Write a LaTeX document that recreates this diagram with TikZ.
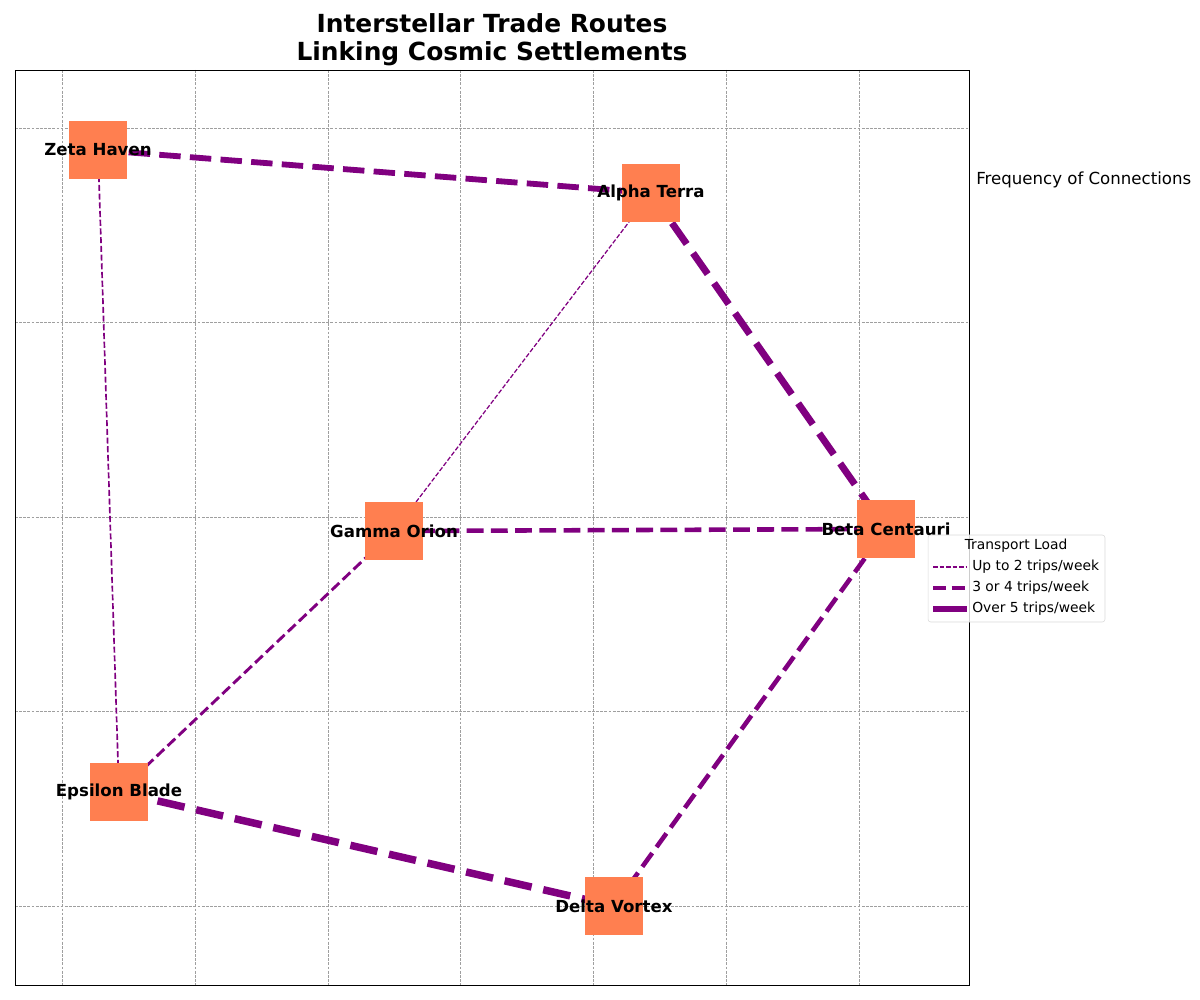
\documentclass[tikz,border=0pt]{standalone}
\usepackage{fontspec}
\setmainfont{DejaVu Sans}
\definecolor{coral}{HTML}{FF7F50}
\definecolor{edgepurple}{HTML}{800080}
\tikzset{
  gridline/.style={draw=gray!75, line width=0.4pt, dash pattern=on 2pt off 1pt},
  station/.style={fill=coral, draw=none, minimum width=41.9pt, minimum height=41.9pt, inner sep=0pt},
  stlabel/.style={font=\bfseries\fontsize{12}{14}\selectfont, inner sep=0pt},
  route/.style={draw=edgepurple, line cap=butt},
  w1/.style={route, line width=0.9pt, dash pattern=on 3.3pt off 1.4pt},
  w15/.style={route, line width=1.2pt, dash pattern=on 4.4pt off 1.9pt},
  w2/.style={route, line width=2.1pt, dash pattern=on 7.6pt off 3.3pt},
  w3/.style={route, line width=3.3pt, dash pattern=on 12.2pt off 5.3pt},
  w4/.style={route, line width=4.2pt, dash pattern=on 15.5pt off 6.7pt},
  w5/.style={route, line width=5.0pt, dash pattern=on 18.5pt off 8pt},
  w6/.style={route, line width=5.4pt, dash pattern=on 20pt off 8.6pt},
}
\begin{document}
\begin{tikzpicture}[x=0.7227pt, y=-0.7227pt]
\useasboundingbox (0,0) rectangle (1200,1000);
% grid
\foreach \gx in {62,195,328,460,593,726,859} \draw[gridline] (\gx,70) -- (\gx,985);
\foreach \gy in {128,322,517,711,906} \draw[gridline] (15,\gy) -- (969,\gy);
% nodes positions
\coordinate (cz) at (98,150);
\coordinate (ca) at (651,193);
\coordinate (cg) at (394,531);
\coordinate (cb) at (886,529);
\coordinate (ce) at (119,792);
\coordinate (cd) at (614,906);
% edges
\draw[w4] (cz) -- (ca);
\draw[w5] (ca) -- (cb);
\draw[w1] (ca) -- (cg);
\draw[w3] (cg) -- (cb);
\draw[w2] (cg) -- (ce);
\draw[w15] (cz) -- (ce);
\draw[w6] (ce) -- (cd);
\draw[w3] (cd) -- (cb);
% boxes
\node[station] (z) at (cz) {};
\node[station] (a) at (ca) {};
\node[station] (g) at (cg) {};
\node[station] (b) at (cb) {};
\node[station] (e) at (ce) {};
\node[station] (d) at (cd) {};
% labels
\node[stlabel] (zl) at (z.center) {Zeta Haven};
\node[stlabel] (al) at (a.center) {Alpha Terra};
\node[stlabel] (gl) at (g.center) {Gamma Orion};
\node[stlabel] (bl) at (b.center) {Beta Centauri};
\node[stlabel] (el) at (e.center) {Epsilon Blade};
\node[stlabel] (dl) at (d.center) {Delta Vortex};
% frame
\draw[black, line width=0.7pt] (15,70) rectangle (969,985);
% title
\node[font=\bfseries\fontsize{18}{20.5}\selectfont, align=center, inner sep=0pt] (title) at (492,40) {Interstellar Trade Routes\\Linking Cosmic Settlements};
\node[font=\fontsize{12}{14}\selectfont, anchor=west, inner sep=0pt] (freq) at (976,180) {Frequency of Connections};
% legend
\node[draw=black!15, fill=white, fill opacity=0.8, text opacity=1, rounded corners=2pt, minimum width=127.9pt, minimum height=62.9pt, inner sep=0pt] (leg) at (1016.5,578.5) {};
\node[font=\fontsize{10}{12}\selectfont, inner sep=0pt] (legt) at (1016,546) {Transport Load};
\coordinate (l1a) at (933,567); \coordinate (l1b) at (967,567);
\coordinate (l2a) at (933,588); \coordinate (l2b) at (967,588);
\coordinate (l3a) at (933,609); \coordinate (l3b) at (967,609);
\draw[route, line width=0.9pt, dash pattern=on 3.3pt off 1.4pt] (l1a) -- (l1b);
\draw[route, line width=2.6pt, dash pattern=on 9.5pt off 4pt] (l2a) -- (l2b);
\draw[route, line width=4.3pt] (l3a) -- (l3b);
\node[font=\fontsize{10}{12}\selectfont, anchor=west, inner sep=0pt] (t1) at (972,567) {Up to 2 trips/week};
\node[font=\fontsize{10}{12}\selectfont, anchor=west, inner sep=0pt] (t2) at (972,588) {3 or 4 trips/week};
\node[font=\fontsize{10}{12}\selectfont, anchor=west, inner sep=0pt] (t3) at (972,609) {Over 5 trips/week};
\end{tikzpicture}
\end{document}
